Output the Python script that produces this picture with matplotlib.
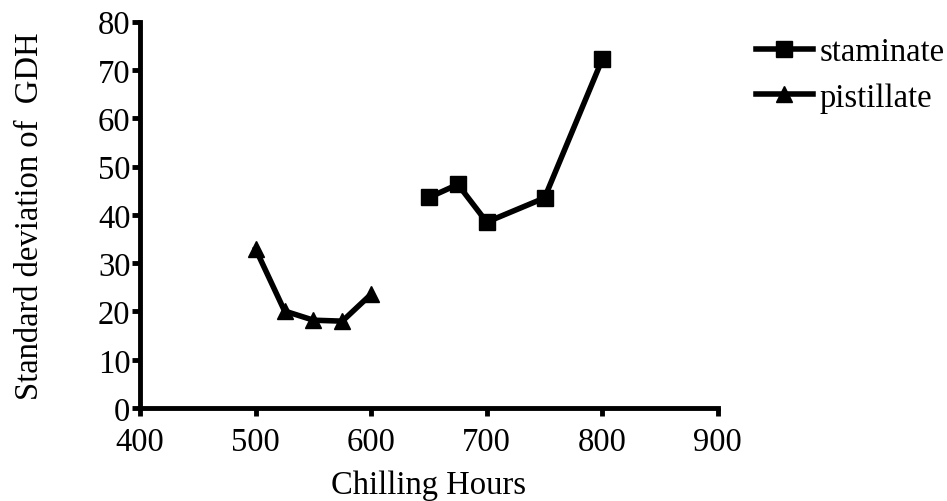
import numpy as np
from matplotlib import pyplot as plt

# chilling hours vs. standard deviation of growing degree hours
staminate_hours = [650, 675, 700, 750, 800]
staminate_sd = [43.6, 46.3, 38.5, 43.5, 72.2]

pistillate_hours = [500, 525, 550, 575, 600]
pistillate_sd = [32.9, 20.1, 18.2, 18.0, 23.6]

x_ticks = [400, 500, 600, 700, 800, 900]
y_ticks = [0, 10, 20, 30, 40, 50, 60, 70, 80]

plt.rcParams['font.family'] = ['Liberation Serif', 'DejaVu Serif']
FontSz = 23.5

fig = plt.figure(figsize = (9.47, 5.02), dpi = 100)
ax = fig.add_axes([0.148, 0.185, 0.61, 0.77])

ax.plot(staminate_hours, staminate_sd, color = 'black', linewidth = 4,
        marker = 's', markersize = 12, label = 'staminate')
ax.plot(pistillate_hours, pistillate_sd, color = 'black', linewidth = 4,
        marker = '^', markersize = 12, label = 'pistillate')

ax.set_xlim(400, 900)
ax.set_ylim(0, 80)
ax.set_xticks(x_ticks)
ax.set_yticks(y_ticks)

for side in ['top', 'right']:
    ax.spines[side].set_visible(False)
for side in ['left', 'bottom']:
    ax.spines[side].set_linewidth(3.5)
    ax.spines[side].set_capstyle('projecting')

ax.tick_params(axis = 'both', direction = 'out', length = 6, width = 3.5,
               labelsize = FontSz)
ax.tick_params(axis = 'y', pad = 1)
ax.tick_params(axis = 'x', pad = 7)
ax.set_xlabel("Chilling Hours", fontsize = FontSz, labelpad = 9)
ax.set_ylabel("Standard deviation of  GDH", fontsize = FontSz, labelpad = 38)

ax.legend(loc = 'upper left', bbox_to_anchor = (0.798, 0.925),
          bbox_transform = fig.transFigure, frameon = False,
          fontsize = FontSz, handlelength = 1.75, handletextpad = 0.2,
          labelspacing = 0.46, borderpad = 0, borderaxespad = 0)

fig.savefig("out.png", dpi = 100)
